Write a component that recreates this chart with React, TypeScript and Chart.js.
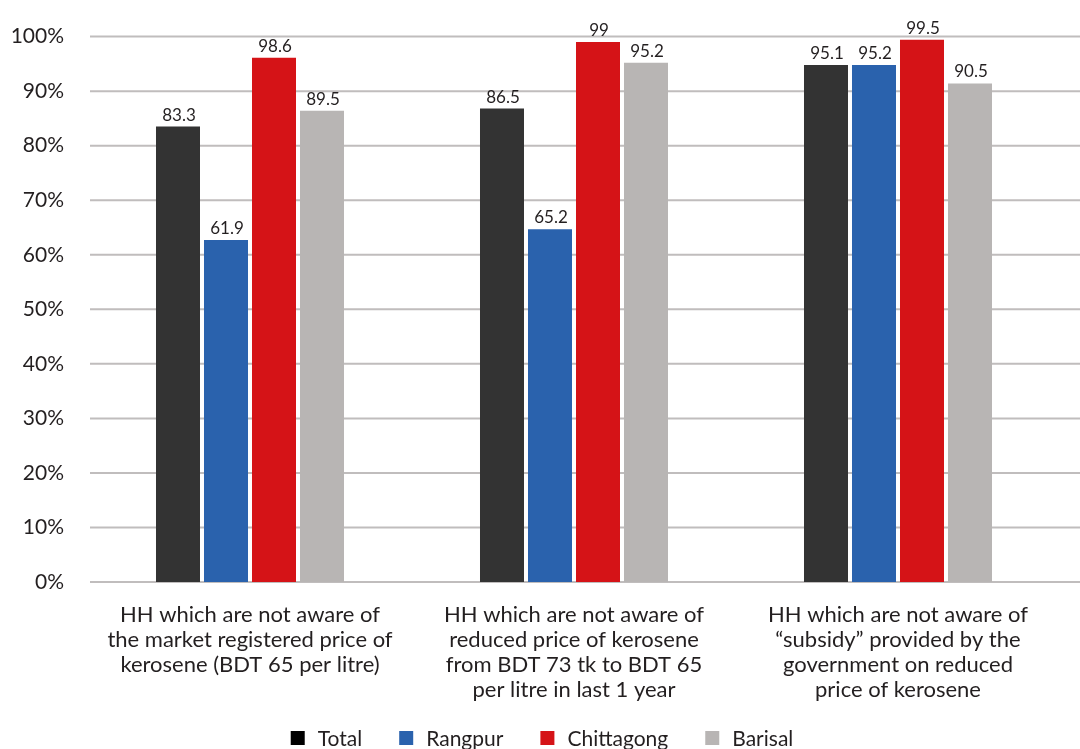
import React, { useEffect, useRef } from "react";
import { Chart, registerables } from "chart.js";

Chart.register(...registerables);

const categories: string[][] = [
  ["HH which are not aware of", "the market registered price of", "kerosene (BDT 65 per litre)"],
  ["HH which are not aware of", "reduced price of kerosene", "from BDT 73 tk to BDT 65", "per litre in last 1 year"],
  ["HH which are not aware of", "\u201Csubsidy\u201D provided by the", "government on reduced", "price of kerosene"],
];

const seriesNames = ["Total", "Rangpur", "Chittagong", "Barisal"];

// bar heights as drawn in the picture
const totalValues = [83.5, 86.8, 94.8];
const rangpurValues = [62.7, 64.7, 94.8];
const chittagongValues = [96.1, 99.0, 99.4];
const barisalValues = [86.4, 95.2, 91.4];

// value labels printed above the bars
const totalLabels = ["83.3", "86.5", "95.1"];
const rangpurLabels = ["61.9", "65.2", "95.2"];
const chittagongLabels = ["98.6", "99", "99.5"];
const barisalLabels = ["89.5", "95.2", "90.5"];

const yMin = 0;
const yMax = 100;
const yStep = 10;

const barColors = ["#333333", "#2a62ad", "#d51317", "#b8b5b4"];
const legendColors = ["#000000", "#2a62ad", "#d51317", "#b8b5b4"];

const FONT = "Lato, 'Noto Sans', sans-serif";
const TEXT = "#231f20";

export default function App() {
  const ref = useRef<HTMLCanvasElement | null>(null);

  useEffect(() => {
    document.body.style.margin = "0";
    const canvas = ref.current;
    if (!canvas) return;

    const valueSets = [totalValues, rangpurValues, chittagongValues, barisalValues];
    const labelSets = [totalLabels, rangpurLabels, chittagongLabels, barisalLabels];

    const gridPlugin = {
      id: "fullGrid",
      beforeDatasetsDraw(chart: any) {
        const { ctx, scales } = chart;
        const y = scales.y;
        ctx.save();
        ctx.strokeStyle = "#c0bdbd";
        ctx.lineWidth = 2;
        for (let v = yMin; v <= yMax; v += yStep) {
          const py = y.getPixelForValue(v);
          ctx.beginPath();
          ctx.moveTo(90, py);
          ctx.lineTo(chart.width, py);
          ctx.stroke();
        }
        ctx.restore();
      },
    };

    const labelPlugin = {
      id: "valueLabels",
      afterDatasetsDraw(chart: any) {
        const { ctx } = chart;
        ctx.save();
        ctx.font = `17px ${FONT}`;
        ctx.fillStyle = TEXT;
        ctx.textAlign = "center";
        ctx.textBaseline = "bottom";
        chart.data.datasets.forEach((_: any, di: number) => {
          const meta = chart.getDatasetMeta(di);
          meta.data.forEach((el: any, i: number) => {
            ctx.fillText(labelSets[di][i], el.x + 1, el.y - 3);
          });
        });
        ctx.restore();
      },
    };

    const legendPlugin = {
      id: "bottomLegend",
      afterDraw(chart: any) {
        const { ctx } = chart;
        ctx.save();
        ctx.font = `21px ${FONT}`;
        const box = 14;
        const textGap = 13;
        const itemGap = 37;
        const names = chart.data.datasets.map((d: any) => d.label);
        const widths = names.map((n: string) => box + textGap + ctx.measureText(n).width);
        const total = widths.reduce((a: number, b: number) => a + b, 0) + itemGap * (names.length - 1);
        let x = 542 - total / 2;
        const cy = 738;
        names.forEach((n: string, i: number) => {
          ctx.fillStyle = legendColors[i];
          ctx.fillRect(x, cy - 7, box, box);
          ctx.fillStyle = TEXT;
          ctx.textAlign = "left";
          ctx.textBaseline = "middle";
          ctx.fillText(n, x + box + textGap, cy + 1);
          x += widths[i] + itemGap;
        });
        ctx.restore();
      },
    };

    const chart = new Chart(canvas, {
      type: "bar",
      data: {
        labels: categories,
        datasets: seriesNames.map((name, i) => ({
          label: name,
          data: valueSets[i],
          backgroundColor: barColors[i],
          borderWidth: 0,
          categoryPercentage: 0.5926,
          barPercentage: 0.9167,
        })),
      },
      options: {
        responsive: false,
        animation: false,
        devicePixelRatio: 1,
        layout: { padding: { top: 34, right: 20, left: 0, bottom: 0 } },
        scales: {
          x: {
            grid: { display: false, drawTicks: false },
            border: { display: false },
            ticks: {
              color: TEXT,
              font: { family: FONT, size: 22, lineHeight: 25 / 22 },
              padding: 20,
              maxRotation: 0,
              autoSkip: false,
            },
            afterFit(scale: any) {
              scale.height = 167;
            },
          },
          y: {
            min: yMin,
            max: yMax,
            grid: { display: false, drawTicks: false },
            border: { display: false },
            ticks: {
              stepSize: yStep,
              color: TEXT,
              font: { family: FONT, size: 21 },
              padding: 24,
              callback: (v: any) => `${v}%`,
            },
            afterFit(scale: any) {
              scale.width = 88;
            },
          },
        },
        plugins: {
          tooltip: { enabled: false },
          legend: { display: false },
        },
      },
      plugins: [gridPlugin, labelPlugin, legendPlugin],
    });

    return () => chart.destroy();
  }, []);

  return (
    <div style={{ position: "fixed", left: 0, top: 0, width: 1080, height: 749, overflow: "hidden", background: "#fff" }}>
      <canvas ref={ref} width={1080} height={749} style={{ display: "block" }} />
    </div>
  );
}
